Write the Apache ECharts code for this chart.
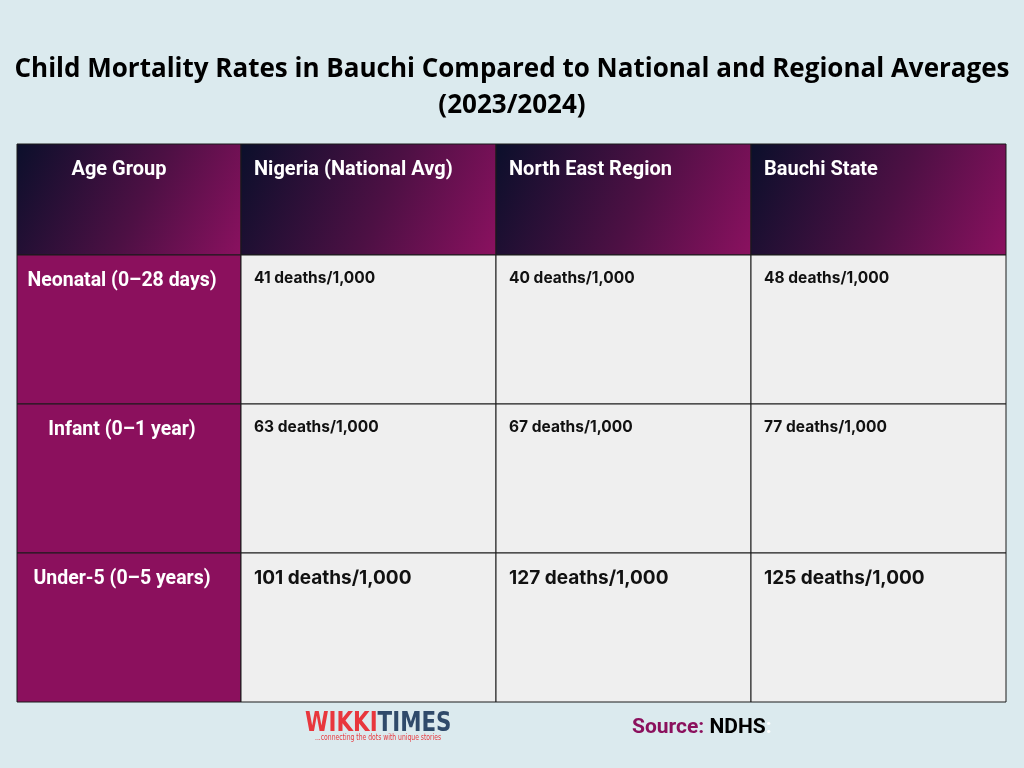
<!DOCTYPE html>
<html lang="en">
  <head>
    <meta charset="UTF-8" />
    <title>Child Mortality Rates in Bauchi</title>
    <script src="https://cdn.jsdelivr.net/npm/echarts@6.0.0/dist/echarts.min.js"></script>
    <style>
      html, body { margin: 0; padding: 0; background: #dbeaee; }
    </style>
  </head>
  <body>
    <div id="main" style="width: 1024px; height: 768px"></div>
    <script type="text/javascript">
      // table content
      const firstHeader = 'Age Group';
      const columns = ['Nigeria (National Avg)', 'North East Region', 'Bauchi State'];
      const ageGroups = ['Neonatal (0–28 days)', 'Infant (0–1 year)', 'Under-5 (0–5 years)'];
      const nigeria = [41, 63, 101];
      const northEast = [40, 67, 127];
      const bauchi = [48, 77, 125];
      const unit = ' deaths/1,000';

      const seriesValues = [nigeria, northEast, bauchi];

      // cells of the body: [column, row, value]
      const bodyCells = [];
      seriesValues.forEach((vals, c) => {
        vals.forEach((v, r) => bodyCells.push([c, r, v]));
      });

      const headerGradient = () =>
        new echarts.graphic.LinearGradient(0, 0, 1, 1, [
          { offset: 0, color: '#0b0f2b' },
          { offset: 0.55, color: '#4d1044' },
          { offset: 1, color: '#8b1160' },
        ]);

      const cellRect = (api, fill) => {
        const p = api.coord([api.value(0), api.value(1)]);
        const s = api.size([1, 1]);
        return {
          x: p[0] - s[0] / 2,
          y: p[1] - s[1] / 2,
          w: s[0],
          h: s[1],
          fill,
        };
      };

      const renderCell = (opt) => (params, api) => {
        const r = cellRect(api, opt.fill);
        const row = api.value(1);
        const txt = opt.text(params.dataIndex, row);
        const size = opt.fontSize(row);
        return {
          type: 'group',
          children: [
            {
              type: 'rect',
              shape: { x: r.x, y: r.y, width: r.w, height: r.h },
              style: {
                fill: typeof r.fill === 'function' ? r.fill() : r.fill,
                stroke: '#1a1a1a',
                lineWidth: 1,
              },
            },
            {
              type: 'text',
              x: opt.align === 'center' ? r.x + r.w / 2 + (opt.dx || 0) : r.x + 13,
              y: r.y + opt.dy(row),
              style: {
                text: txt,
                fill: opt.color,
                font: 'bold ' + size + 'px ' + opt.family,
                textAlign: opt.align,
                textVerticalAlign: 'middle',
              },
            },
          ],
        };
      };

      const container = document.getElementById('main');
      const myChart = echarts.init(container, null, { width: 1024, height: 768 });

      const hiddenCat = (data, gridIndex, inverse) => ({
        type: 'category',
        data,
        gridIndex,
        inverse: !!inverse,
        show: false,
      });

      const option = {
        backgroundColor: '#dbeaee',
        animation: false,
        title: {
          text: 'Child Mortality Rates in Bauchi Compared to National and Regional Averages\n(2023/2024)',
          left: 'center',
          top: 47,
          textStyle: {
            fontFamily: 'Open Sans',
            fontWeight: 'bold',
            fontSize: 26,
            lineHeight: 36,
            color: '#000',
          },
        },
        grid: [
          { left: 17, top: 144, width: 224, height: 111 },
          { left: 241, top: 144, width: 765, height: 111 },
          { left: 17, top: 255, width: 224, height: 447 },
          { left: 241, top: 255, width: 765, height: 447 },
        ],
        xAxis: [
          hiddenCat([firstHeader], 0),
          hiddenCat(columns, 1),
          hiddenCat([firstHeader], 2),
          hiddenCat(columns, 3),
        ],
        yAxis: [
          hiddenCat(['header'], 0),
          hiddenCat(['header'], 1),
          hiddenCat(ageGroups, 2, true),
          hiddenCat(ageGroups, 3, true),
        ],
        series: [
          {
            type: 'custom',
            xAxisIndex: 0,
            yAxisIndex: 0,
            data: [[0, 0]],
            renderItem: renderCell({
              fill: headerGradient,
              text: () => firstHeader,
              fontSize: () => 20,
              family: 'Roboto',
              color: '#fff',
              align: 'center',
              dx: -10,
              dy: () => 26,
            }),
          },
          {
            type: 'custom',
            xAxisIndex: 1,
            yAxisIndex: 1,
            data: columns.map((c, i) => [i, 0]),
            renderItem: renderCell({
              fill: headerGradient,
              text: (i) => columns[i],
              fontSize: () => 20,
              family: 'Roboto',
              color: '#fff',
              align: 'left',
              dy: () => 26,
            }),
          },
          {
            type: 'custom',
            xAxisIndex: 2,
            yAxisIndex: 2,
            data: ageGroups.map((g, i) => [0, i]),
            renderItem: renderCell({
              fill: '#8b105d',
              text: (i) => ageGroups[i],
              fontSize: () => 19.5,
              family: 'Roboto',
              color: '#fff',
              align: 'center',
              dx: -7,
              dy: () => 26,
            }),
          },
          {
            type: 'custom',
            xAxisIndex: 3,
            yAxisIndex: 3,
            data: bodyCells,
            renderItem: renderCell({
              fill: '#efefef',
              text: (i) => bodyCells[i][2] + unit,
              fontSize: (row) => (row === 2 ? 19 : 15.5),
              family: 'Inter',
              color: '#111',
              align: 'left',
              dy: (row) => (row === 2 ? 25 : 23),
            }),
          },
        ],
        graphic: [
          {
            type: 'text',
            left: 305,
            top: 710,
            scaleX: 0.88,
            style: {
              text: '{r|WIKKI}{b|TIMES}',
              rich: {
                r: { font: 'bold 27px "DejaVu Sans Condensed"', fill: '#e8373d' },
                b: { font: 'bold 27px "DejaVu Sans Condensed"', fill: '#2f4a6a' },
              },
            },
          },
          {
            type: 'text',
            left: 315,
            top: 733,
            scaleX: 0.75,
            style: {
              text: '...connecting the dots with unique stories',
              font: '9px "Liberation Sans Narrow", "DejaVu Sans Condensed"',
              fill: '#e8373d',
            },
          },
          {
            type: 'text',
            left: 632,
            top: 717,
            style: {
              text: '{s|Source: }{n|NDHS}{c|:}',
              rich: {
                s: { font: 'bold 21px Roboto', fill: '#8b105d' },
                n: { font: 'bold 21px Roboto', fill: '#000' },
                c: { font: 'bold 21px Roboto', fill: '#ffffff' },
              },
            },
          },
        ],
      };

      myChart.setOption(option);
    </script>
  </body>
</html>
